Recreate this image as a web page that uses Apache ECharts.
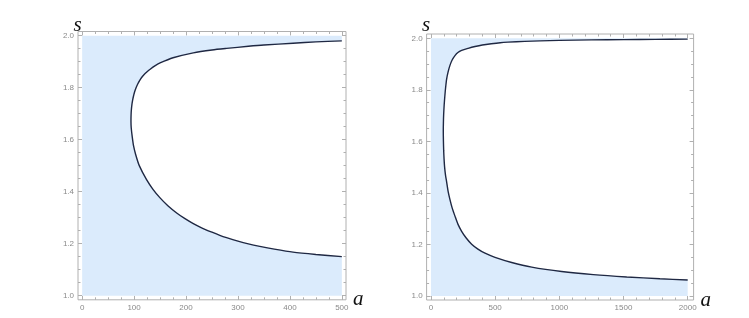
<!DOCTYPE html>
<html><head><meta charset="utf-8">
<script src="https://cdn.jsdelivr.net/npm/echarts@6/dist/echarts.min.js"></script>
<style>html,body{margin:0;padding:0;background:#fff}#c{width:749px;height:318px}</style>
</head><body><div id="c"></div>
<script>
// Left panel boundary curve (upper branch from a=500 leftwards, then lower branch back to a=500)
const leftCurveA = [500, 450, 406, 350, 320, 278, 250, 214, 175, 150, 140, 131, 125, 119, 114.5, 110.6, 107, 103.8, 101.2, 99, 97.2, 95.8, 94.8, 94.2, 94, 94.5, 96.5, 99, 103, 110, 124, 136, 150, 165, 182, 198, 214, 230, 250, 265, 278, 300, 320, 342, 370, 406, 450, 500];
const leftCurveS = [1.980, 1.976, 1.971, 1.964, 1.959, 1.951, 1.945, 1.934, 1.915, 1.895, 1.884, 1.871, 1.861, 1.850, 1.839, 1.827, 1.814, 1.800, 1.785, 1.769, 1.752, 1.735, 1.716, 1.696, 1.670, 1.645, 1.610, 1.576, 1.543, 1.500, 1.446, 1.410, 1.376, 1.346, 1.318, 1.296, 1.277, 1.261, 1.244, 1.232, 1.223, 1.2095, 1.199, 1.1895, 1.179, 1.1675, 1.1585, 1.150];
// Right panel boundary curve
const rightCurveA = [2000, 1750, 1500, 1250, 1000, 850, 730, 600, 540, 470, 400, 343, 290, 239, 210, 187, 165, 148, 134, 122, 114, 108, 103, 99, 97, 96, 97, 99, 102, 106, 113, 122, 134, 148, 165, 187, 210, 239, 273, 317, 366, 421, 499, 629, 785, 1018, 1265, 1525, 1784, 2000];
const rightCurveS = [1.997, 1.996, 1.995, 1.994, 1.992, 1.990, 1.988, 1.985, 1.983, 1.979, 1.974, 1.968, 1.961, 1.953, 1.945, 1.933, 1.916, 1.895, 1.871, 1.842, 1.808, 1.775, 1.742, 1.706, 1.673, 1.640, 1.603, 1.565, 1.532, 1.502, 1.470, 1.443, 1.405, 1.374, 1.342, 1.310, 1.279, 1.251, 1.226, 1.201, 1.182, 1.166, 1.150, 1.130, 1.112, 1.095, 1.083, 1.074, 1.067, 1.062];

const leftXTicks = [0, 100, 200, 300, 400, 500];
const leftXMinor = [0, 25, 50, 75, 100, 125, 150, 175, 200, 225, 250, 275, 300, 325, 350, 375, 400, 425, 450, 475, 500];
const rightXTicks = [0, 500, 1000, 1500, 2000];
const rightXMinor = [0, 100, 200, 300, 400, 500, 600, 700, 800, 900, 1000, 1100, 1200, 1300, 1400, 1500, 1600, 1700, 1800, 1900, 2000];
const yTicks = [1.0, 1.2, 1.4, 1.6, 1.8, 2.0];
const yMinor = [1.0, 1.05, 1.1, 1.15, 1.2, 1.25, 1.3, 1.35, 1.4, 1.45, 1.5, 1.55, 1.6, 1.65, 1.7, 1.75, 1.8, 1.85, 1.9, 1.95, 2.0];
const leftRegion = [0, 500, 1, 2];   // aMin, aMax, sMin, sMax
const rightRegion = [0, 2000, 1, 2];

const frameColor = '#b0b0b0';
const labelColor = '#8a8a8a';
const fillColor = '#dbebfc';
const curveColor = '#1f2843';
const nameStyle = {fontFamily: 'Liberation Serif', fontStyle: 'italic', fontSize: 21, color: '#111'};

function tickAxis(gridIndex, pos, min, max, values, len, labels, fmt, extra) {
  return Object.assign({
    gridIndex, type: 'value', position: pos, min, max,
    axisLine: {show: false, onZero: false},
    splitLine: {show: false},
    axisTick: {show: true, inside: true, length: len, customValues: values, lineStyle: {color: frameColor, width: 1}},
    axisLabel: labels ? {show: true, customValues: values, formatter: fmt, color: labelColor, fontSize: 8, fontFamily: 'Liberation Sans', margin: 4} : {show: false}
  }, extra || {});
}
const fx = v => String(v);
const fy = v => Number(v).toFixed(1);

function xAxes(g, min, max, major, minor) {
  return [
    tickAxis(g, 'bottom', min, max, major, 4, true, fx, {name: 'a', nameLocation: 'end', nameGap: 7, nameMoveOverlap: false, nameTextStyle: Object.assign({padding: [4, 0, 0, 0]}, nameStyle)}),
    tickAxis(g, 'top', min, max, major, 4, false),
    tickAxis(g, 'bottom', min, max, minor, 2.5, false),
    tickAxis(g, 'top', min, max, minor, 2.5, false)
  ];
}
function yAxes(g, min, max, gap) {
  return [
    tickAxis(g, 'left', min, max, yTicks, 4, true, fy, {name: 's', nameLocation: 'end', nameGap: gap, nameMoveOverlap: false, nameTextStyle: Object.assign({padding: [0, 1, 0, 0]}, nameStyle)}),
    tickAxis(g, 'right', min, max, yTicks, 4, false),
    tickAxis(g, 'left', min, max, yMinor, 2.5, false),
    tickAxis(g, 'right', min, max, yMinor, 2.5, false)
  ];
}

function fillSeries(xi, yi, A, S, r) {
  return {
    type: 'custom', xAxisIndex: xi, yAxisIndex: yi, silent: true, z: 1, animation: false,
    data: [[r[0], r[2]]],
    renderItem: function (params, api) {
      const pts = [api.coord([r[0], r[2]]), api.coord([r[0], r[3]]), api.coord([r[1], r[3]])];
      for (let i = 0; i < A.length; i++) pts.push(api.coord([A[i], S[i]]));
      pts.push(api.coord([r[1], r[2]]));
      return {type: 'polygon', shape: {points: pts}, style: {fill: fillColor}};
    }
  };
}
function curveSeries(xi, yi, A, S) {
  return {
    type: 'line', xAxisIndex: xi, yAxisIndex: yi, z: 3, animation: false, silent: true,
    data: A.map((a, i) => [a, S[i]]), showSymbol: false, symbol: 'none', smooth: 0.25,
    lineStyle: {color: curveColor, width: 1.4}
  };
}

const chart = echarts.init(document.getElementById('c'), null, {renderer: 'canvas'});
chart.setOption({
  animation: false,
  backgroundColor: '#fff',
  grid: [
    {left: 78, top: 31.5, width: 268, height: 268.3, show: true, borderColor: frameColor, borderWidth: 1, backgroundColor: 'transparent'},
    {left: 426.6, top: 34, width: 267, height: 266, show: true, borderColor: frameColor, borderWidth: 1, backgroundColor: 'transparent'}
  ],
  xAxis: [].concat(xAxes(0, -8, 508, leftXTicks, leftXMinor), xAxes(1, -34, 2046, rightXTicks, rightXMinor)),
  yAxis: [].concat(yAxes(0, 0.984, 2.016, -4), yAxes(1, 0.9845, 2.0167, -1.5)),
  series: [
    fillSeries(0, 0, leftCurveA, leftCurveS, leftRegion),
    curveSeries(0, 0, leftCurveA, leftCurveS),
    fillSeries(4, 4, rightCurveA, rightCurveS, rightRegion),
    curveSeries(4, 4, rightCurveA, rightCurveS)
  ]
});
</script></body></html>
